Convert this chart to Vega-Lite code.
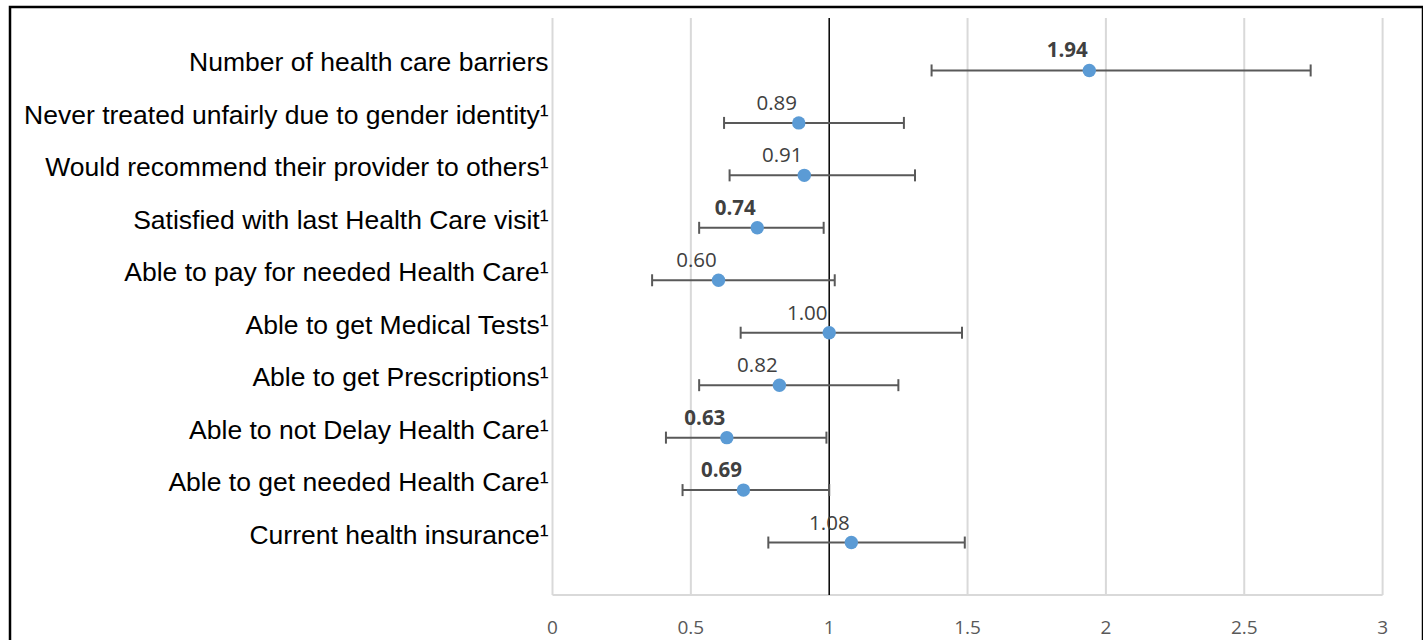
{
  "$schema": "https://vega.github.io/schema/vega-lite/v6.json",
  "autosize": "none",
  "padding": {"left": 10, "top": 7, "right": 0, "bottom": 0},
  "width": 1413,
  "height": 640,
  "background": "white",
  "config": {"view": {"stroke": "black", "strokeWidth": 2.5}},
  "datasets": {
    "rows": [
      {"item": "Number of health care barriers", "rank": 10, "or": 1.94, "lo": 1.37, "hi": 2.74, "sig": true},
      {"item": "Never treated unfairly due to gender identity¹", "rank": 9, "or": 0.89, "lo": 0.62, "hi": 1.27, "sig": false},
      {"item": "Would recommend their provider to others¹", "rank": 8, "or": 0.91, "lo": 0.64, "hi": 1.31, "sig": false},
      {"item": "Satisfied with last Health Care visit¹", "rank": 7, "or": 0.74, "lo": 0.53, "hi": 0.98, "sig": true},
      {"item": "Able to pay for needed Health Care¹", "rank": 6, "or": 0.60, "lo": 0.36, "hi": 1.02, "sig": false},
      {"item": "Able to get Medical Tests¹", "rank": 5, "or": 1.00, "lo": 0.68, "hi": 1.48, "sig": false},
      {"item": "Able to get Prescriptions¹", "rank": 4, "or": 0.82, "lo": 0.53, "hi": 1.25, "sig": false},
      {"item": "Able to not Delay Health Care¹", "rank": 3, "or": 0.63, "lo": 0.41, "hi": 0.99, "sig": true},
      {"item": "Able to get needed Health Care¹", "rank": 2, "or": 0.69, "lo": 0.47, "hi": 1.00, "sig": true},
      {"item": "Current health insurance¹", "rank": 1, "or": 1.08, "lo": 0.78, "hi": 1.49, "sig": false}
    ],
    "ticks": [
      {"v": 0, "label": "0"},
      {"v": 0.5, "label": "0.5"},
      {"v": 1, "label": "1"},
      {"v": 1.5, "label": "1.5"},
      {"v": 2, "label": "2"},
      {"v": 2.5, "label": "2.5"},
      {"v": 3, "label": "3"}
    ]
  },
  "resolve": {"scale": {"x": "shared", "y": "shared"}},
  "layer": [
    {
      "data": {"name": "ticks"},
      "transform": [{"filter": "datum.v != 1"}],
      "mark": {"type": "rule", "color": "#d9d9d9", "strokeWidth": 2},
      "encoding": {
        "x": {"field": "v", "type": "quantitative", "scale": {"domain": [-1.9606, 3.146], "nice": false, "zero": false}, "axis": null},
        "y": {"datum": 0, "type": "quantitative", "scale": {"domain": [-0.9914, 11.2097], "nice": false, "zero": false}, "axis": null},
        "y2": {"datum": 11}
      }
    },
    {
      "data": {"name": "ticks"},
      "transform": [{"filter": "datum.v == 0"}],
      "mark": {"type": "rule", "color": "#d9d9d9", "strokeWidth": 2},
      "encoding": {
        "x": {"datum": 0, "type": "quantitative"},
        "x2": {"datum": 3},
        "y": {"datum": 0, "type": "quantitative"}
      }
    },
    {
      "data": {"name": "ticks"},
      "transform": [{"filter": "datum.v == 1"}],
      "mark": {"type": "rule", "color": "black", "strokeWidth": 1.5},
      "encoding": {
        "x": {"field": "v", "type": "quantitative"},
        "y": {"datum": 0, "type": "quantitative"},
        "y2": {"datum": 11}
      }
    },
    {
      "data": {"name": "rows"},
      "mark": {"type": "rule", "color": "#595959", "strokeWidth": 2},
      "encoding": {
        "x": {"field": "lo", "type": "quantitative"},
        "x2": {"field": "hi"},
        "y": {"field": "rank", "type": "quantitative"}
      }
    },
    {
      "data": {"name": "rows"},
      "mark": {"type": "tick", "orient": "vertical", "color": "#595959", "size": 12, "thickness": 2, "opacity": 1},
      "encoding": {
        "x": {"field": "lo", "type": "quantitative"},
        "y": {"field": "rank", "type": "quantitative"}
      }
    },
    {
      "data": {"name": "rows"},
      "mark": {"type": "tick", "orient": "vertical", "color": "#595959", "size": 12, "thickness": 2, "opacity": 1},
      "encoding": {
        "x": {"field": "hi", "type": "quantitative"},
        "y": {"field": "rank", "type": "quantitative"}
      }
    },
    {
      "data": {"name": "rows"},
      "mark": {"type": "circle", "color": "#5b9bd5", "size": 180, "opacity": 1},
      "encoding": {
        "x": {"field": "or", "type": "quantitative"},
        "y": {"field": "rank", "type": "quantitative"}
      }
    },
    {
      "data": {"name": "rows"},
      "transform": [{"filter": "!datum.sig"}],
      "mark": {"type": "text", "font": "Open Sans", "fontSize": 20.5, "color": "#404040", "dx": -22, "dy": -19, "baseline": "middle", "align": "center"},
      "encoding": {
        "x": {"field": "or", "type": "quantitative"},
        "y": {"field": "rank", "type": "quantitative"},
        "text": {"field": "or", "type": "quantitative", "format": ".2f"}
      }
    },
    {
      "data": {"name": "rows"},
      "transform": [{"filter": "datum.sig"}],
      "mark": {"type": "text", "font": "Open Sans", "fontSize": 20.5, "fontWeight": "bold", "color": "#404040", "dx": -22, "dy": -19, "baseline": "middle", "align": "center"},
      "encoding": {
        "x": {"field": "or", "type": "quantitative"},
        "y": {"field": "rank", "type": "quantitative"},
        "text": {"field": "or", "type": "quantitative", "format": ".2f"}
      }
    },
    {
      "data": {"name": "rows"},
      "mark": {"type": "text", "font": "Liberation Sans", "fontSize": 26.5, "color": "black", "dx": -4, "dy": -7, "baseline": "middle", "align": "right"},
      "encoding": {
        "x": {"datum": 0, "type": "quantitative"},
        "y": {"field": "rank", "type": "quantitative"},
        "text": {"field": "item", "type": "nominal"}
      }
    },
    {
      "data": {"name": "ticks"},
      "mark": {"type": "text", "font": "Open Sans", "fontSize": 19, "color": "#595959", "dy": 33, "baseline": "middle", "align": "center"},
      "encoding": {
        "x": {"field": "v", "type": "quantitative"},
        "y": {"datum": 0, "type": "quantitative"},
        "text": {"field": "label", "type": "nominal"}
      }
    }
  ]
}
